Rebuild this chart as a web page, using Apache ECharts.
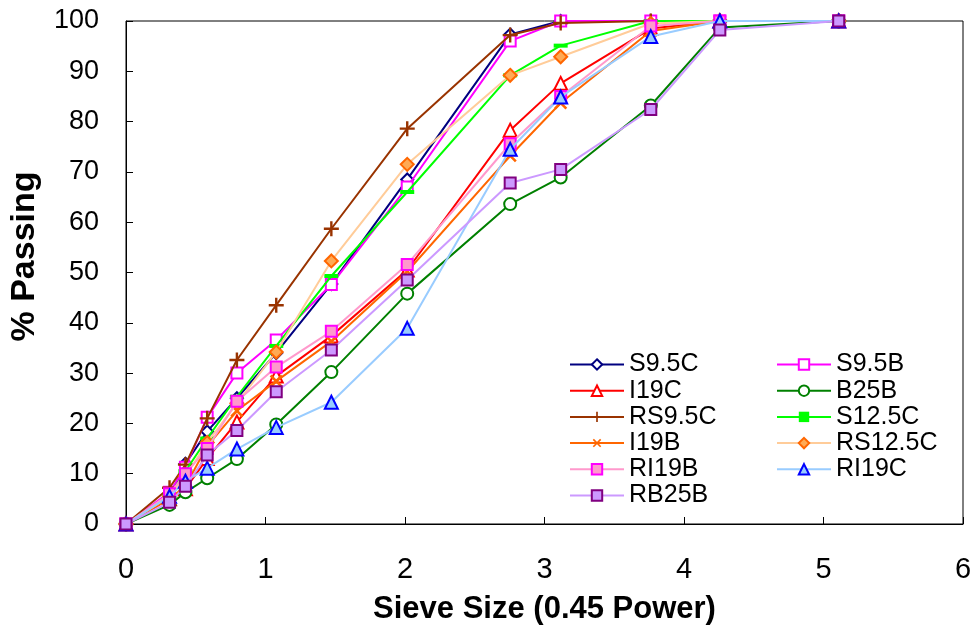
<!DOCTYPE html>
<html>
<head>
<meta charset="utf-8">
<script src="https://cdn.jsdelivr.net/npm/echarts@6/dist/echarts.min.js"></script>
<style>
  html, body { margin: 0; padding: 0; background: #fff; }
  #chart { width: 977px; height: 630px; }
</style>
</head>
<body>
<div id="chart"></div>
<script>
// Sieve openings raised to the 0.45 power
// (0, 0.075, 0.15, 0.3, 0.6, 1.18, 2.36, 4.75, 9.5, 12.5, 19, 25, 37.5 mm)
const sieveX = [0, 0.312, 0.426, 0.582, 0.795, 1.077, 1.472, 2.016, 2.754, 3.116, 3.762, 4.257, 5.109];

// Percent passing for each mix
const S95C   = [0, 5.5, 12.0, 18.4, 25.0, 34.0, 47.7, 68.5, 97.3, 100, 100, 100, 100];
const S95B   = [0, 6.3, 11.3, 21.2, 30.0, 36.6, 47.6, 67.0, 96.0, 100, 100, 100, 100];
const I19C   = [0, 5.0, 7.0, 13.0, 20.3, 29.4, 37.4, 50.5, 78.3, 87.6, 98.5, 100, 100];
const B25B   = [0, 3.8, 6.3, 9.1, 12.9, 19.8, 30.2, 45.8, 63.6, 68.9, 83.2, 98.7, 100];
const RS95C  = [0, 7.2, 11.8, 21.0, 32.6, 43.5, 58.7, 78.6, 97.2, 99.6, 100, 100, 100];
const S125C  = [0, 5.5, 10.5, 17.0, 25.3, 35.4, 49.3, 66.0, 89.2, 95.1, 100, 100, 100];
const I19B   = [0, 5.0, 7.5, 15.5, 22.5, 28.4, 36.3, 50.2, 73.2, 83.7, 98.0, 100, 100];
const RS125C = [0, 5.5, 9.5, 16.2, 24.0, 34.2, 52.3, 71.5, 89.2, 92.9, 99.5, 100, 100];
const RI19B  = [0, 6.0, 10.0, 15.0, 24.4, 31.2, 38.3, 51.6, 75.6, 85.0, 99.0, 100, 100];
const RI19C  = [0, 5.5, 8.5, 11.1, 14.9, 19.2, 24.2, 38.9, 74.5, 84.9, 96.9, 100, 100];
const RB25B  = [0, 4.3, 7.5, 13.7, 18.6, 26.3, 34.6, 48.5, 67.8, 70.5, 82.4, 98.2, 100];

const names = ['S9.5C', 'S9.5B', 'I19C', 'B25B', 'RS9.5C', 'S12.5C', 'I19B', 'RS12.5C', 'RI19B', 'RI19C', 'RB25B'];
const values = [S95C, S95B, I19C, B25B, RS95C, S125C, I19B, RS125C, RI19B, RI19C, RB25B];

const xTicks = [0, 1, 2, 3, 4, 5, 6];
const yTicks = [0, 10, 20, 30, 40, 50, 60, 70, 80, 90, 100];

const PLUS = 'path://M4.2,0H5.8V10H4.2Z M0,4.2H10V5.8H0Z';

// line colour, marker shape, marker size, marker fill, marker border
const styles = [
  { line: '#000080', symbol: 'diamond',  size: 12, fill: '#ffffff', border: '#000080' },
  { line: '#ff00ff', symbol: 'rect',     size: 11, fill: '#ffffff', border: '#ff00ff' },
  { line: '#ff0000', symbol: 'triangle', size: 13, fill: '#ffffff', border: '#ff0000' },
  { line: '#008000', symbol: 'circle',   size: 12, fill: '#ffffff', border: '#008000' },
  { line: '#993300', symbol: PLUS,       size: 15, fill: '#993300', border: '#993300', bw: 0 },
  { line: '#00ff00', symbol: 'rect',     size: [14, 4], fill: '#00ff00', border: '#00ff00', bw: 0 },
  { line: '#ff6600', symbol: PLUS,       size: 16, fill: '#ff6600', border: '#ff6600', bw: 0, rot: 45 },
  { line: '#ffcc99', symbol: 'diamond',  size: 13, fill: '#ffaa55', border: '#ff6600' },
  { line: '#ff99cc', symbol: 'rect',     size: 11, fill: '#ff99cc', border: '#ff00ff' },
  { line: '#99ccff', symbol: 'triangle', size: 13, fill: '#99ccff', border: '#0000ff' },
  { line: '#cc99ff', symbol: 'rect',     size: 11, fill: '#cc99ff', border: '#800080' }
];

const series = names.map((name, i) => {
  const s = styles[i];
  return {
    name: name,
    type: 'line',
    data: sieveX.map((x, k) => [x, values[i][k]]),
    symbol: s.symbol,
    symbolSize: s.size,
    symbolRotate: s.rot || 0,
    showAllSymbol: true,
    lineStyle: { color: s.line, width: 2 },
    itemStyle: { color: s.fill, borderColor: s.border, borderWidth: s.bw === 0 ? 0 : 2 },
    emphasis: { disabled: true },
    animation: false,
    z: 2 + i
  };
});

const legendCommon = {
  orient: 'vertical',
  padding: 0,
  itemWidth: 54,
  itemHeight: 13,
  itemGap: 1.2,
  textStyle: { fontFamily: 'Liberation Sans', fontSize: 25, color: '#000' },
  selectedMode: false
};

const chart = echarts.init(document.getElementById('chart'), null, { renderer: 'canvas' });
chart.setOption({
  backgroundColor: '#ffffff',
  animation: false,
  grid: {
    left: 124, right: 14, top: 21, bottom: 103,
    show: true, borderColor: '#000', borderWidth: 1, backgroundColor: 'transparent'
  },
  legend: [
    Object.assign({}, legendCommon, { left: 569, top: 352, data: names.filter((_, i) => i % 2 === 0) }),
    Object.assign({}, legendCommon, { left: 776, top: 352, data: names.filter((_, i) => i % 2 === 1) })
  ],
  xAxis: {
    type: 'value',
    min: xTicks[0], max: xTicks[xTicks.length - 1], interval: 1,
    name: 'Sieve Size (0.45 Power)',
    nameLocation: 'middle',
    nameGap: 70,
    nameTextStyle: { fontFamily: 'Liberation Sans', fontWeight: 'bold', fontSize: 31, color: '#000' },
    axisLine: { lineStyle: { color: '#000', width: 1 } },
    axisTick: { inside: true, length: 7, lineStyle: { color: '#000' } },
    axisLabel: { fontFamily: 'Liberation Sans', fontSize: 29, color: '#000', margin: 31 },
    splitLine: { show: false }
  },
  yAxis: {
    type: 'value',
    min: yTicks[0], max: yTicks[yTicks.length - 1], interval: 10,
    name: '% Passing',
    nameLocation: 'middle',
    nameGap: 84,
    nameTextStyle: { fontFamily: 'Liberation Sans', fontWeight: 'bold', fontSize: 34, color: '#000', padding: [0, 0, 0, 32] },
    axisLine: { lineStyle: { color: '#000', width: 1 } },
    axisTick: { inside: true, length: 7, lineStyle: { color: '#000' } },
    axisLabel: { fontFamily: 'Liberation Sans', fontSize: 27, color: '#000', margin: 27 },
    splitLine: { show: false }
  },
  series: series
});
</script>
</body>
</html>
